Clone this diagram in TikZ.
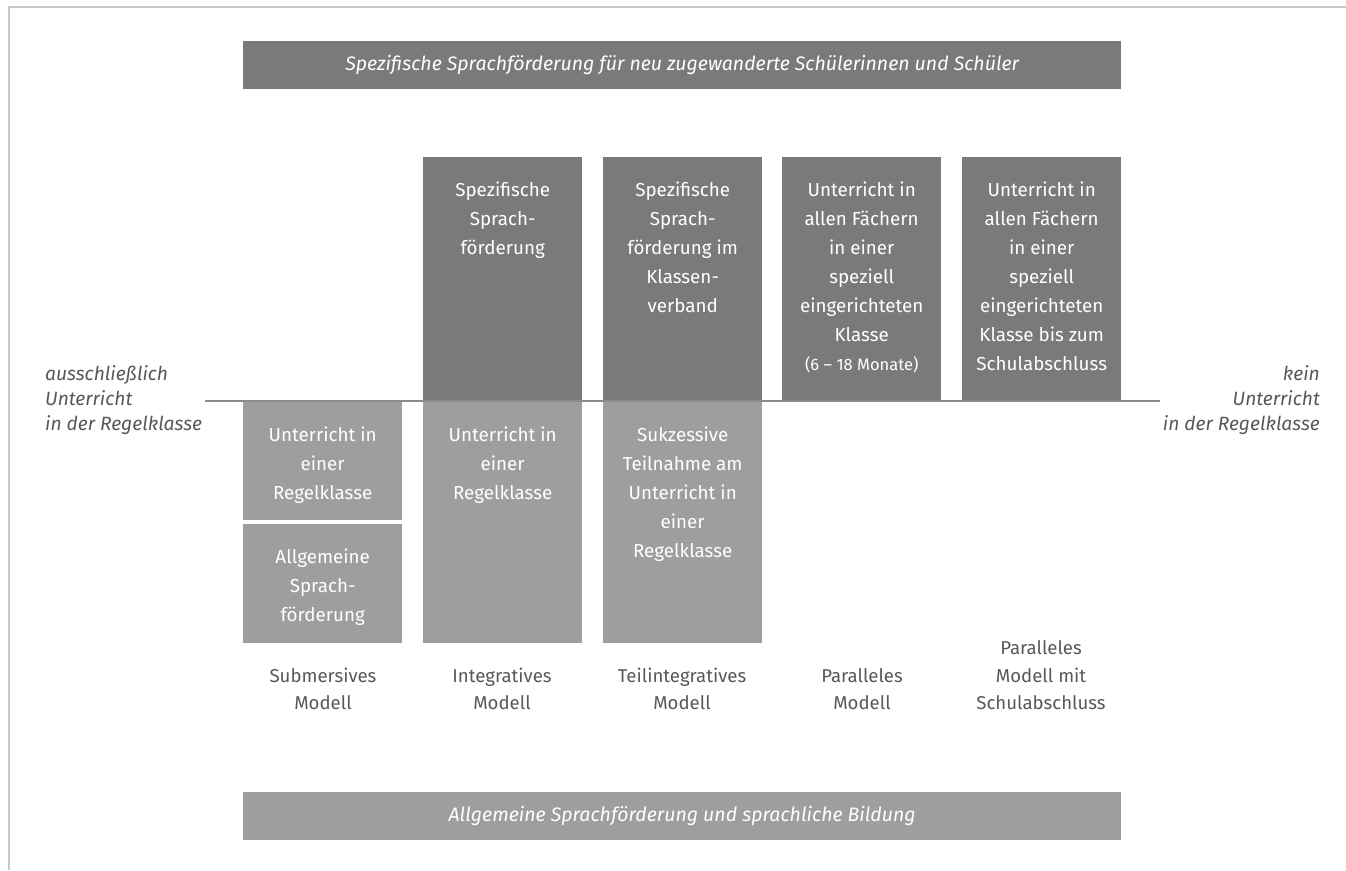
\documentclass[tikz,border=0pt]{standalone}
\usepackage{fontspec}
\setmainfont{Fira Sans}
\usepackage{tikz}
\usetikzlibrary{positioning}
\definecolor{boxdark}{RGB}{122, 122, 122}
\definecolor{boxlight}{RGB}{158, 158, 158}
\definecolor{labelgray}{RGB}{88, 88, 88}
\definecolor{framegray}{RGB}{200, 200, 200}
\definecolor{axisgray}{RGB}{140, 140, 140}

\begin{document}
\begin{tikzpicture}[x=1pt, y=-1pt,
    colbox/.style={inner sep=0pt, minimum width=159pt, anchor=north west},
    banner/.style={inner sep=0pt, minimum width=878pt, minimum height=48pt, anchor=north west,
        text=white, font=\fontsize{19.5}{22}\itshape\selectfont},
    boxtext/.style={text=white, align=center, inner sep=0pt, font=\fontsize{18.8}{29}\selectfont},
    modlabel/.style={text=labelgray, align=center, inner sep=0pt, anchor=south, font=\fontsize{18.6}{27.5}\selectfont},
    sidelabel/.style={text=labelgray, inner sep=0pt, font=\fontsize{19.2}{25}\itshape\selectfont}]
    \useasboundingbox (0,0) rectangle (1346,870);
    \draw[framegray, line width=1.5pt] (9,870) -- (9,7) -- (1346,7);

    % banners
    \node[banner, fill=boxdark] (spezban) at (243,41) {Spezifische Sprachförderung für neu zugewanderte Schülerinnen und Schüler};
    \node[banner, fill=boxlight] (allgban) at (243,792) {Allgemeine Sprachförderung und sprachliche Bildung};

    % upper boxes
    \node[colbox, fill=boxdark, minimum height=244pt] (integup) at (423,157) {};
    \node[colbox, fill=boxdark, minimum height=244pt] (teilup) at (603,157) {};
    \node[colbox, fill=boxdark, minimum height=244pt] (parup) at (782,157) {};
    \node[colbox, fill=boxdark, minimum height=244pt] (schulup) at (962,157) {};

    % lower boxes
    \node[colbox, fill=boxlight, minimum height=119pt] (submup) at (243,401) {};
    \node[colbox, fill=boxlight, minimum height=119pt] (submlow) at (243,524) {};
    \node[colbox, fill=boxlight, minimum height=242pt] (integlow) at (423,401) {};
    \node[colbox, fill=boxlight, minimum height=242pt] (teillow) at (603,401) {};

    \node[boxtext, below=25pt of integup.north] {Spezifische\\Sprach-\\förderung};
    \node[boxtext, below=25pt of teilup.north] {Spezifische\\Sprach-\\förderung im\\Klassen-\\verband};
    \node[boxtext, below=25pt of parup.north] (partxt) {Unterricht in\\allen Fächern\\in einer\\speziell\\eingerichteten\\Klasse\\{\fontsize{16.5}{29}\selectfont(6 – 18 Monate)}};
    \node[boxtext, below=25pt of schulup.north] {Unterricht in\\allen Fächern\\in einer\\speziell\\eingerichteten\\Klasse bis zum\\Schulabschluss};
    \node[boxtext, below=26pt of submup.north] {Unterricht in\\einer\\Regelklasse};
    \node[boxtext, below=25pt of submlow.north] {Allgemeine\\Sprach-\\förderung};
    \node[boxtext, below=26pt of integlow.north] {Unterricht in\\einer\\Regelklasse};
    \node[boxtext, below=26pt of teillow.north] {Sukzessive\\Teilnahme am\\Unterricht in\\einer\\Regelklasse};

    % axis
    \coordinate (axl) at (205,401);
    \coordinate (axr) at (1160,401);
    \draw[axisgray, line width=1.2pt] (axl) -- (axr);

    \node[sidelabel, align=left, anchor=west] (ausschl) at (45,400) {ausschließlich\\Unterricht\\in der Regelklasse};
    \node[sidelabel, align=right, anchor=east] (kein) at (1320,400) {kein\\Unterricht\\in der Regelklasse};

    % model names
    \node[modlabel] (subm) at (323,710) {Submersives\\Modell};
    \node[modlabel] (integ) at (502,710) {Integratives\\Modell};
    \node[modlabel] (teil) at (682,710) {Teilintegratives\\Modell};
    \node[modlabel] (par) at (862,710) {Paralleles\\Modell};
    \node[modlabel] (schul) at (1041,710) {Paralleles\\Modell mit\\Schulabschluss};
\end{tikzpicture}
\end{document}
